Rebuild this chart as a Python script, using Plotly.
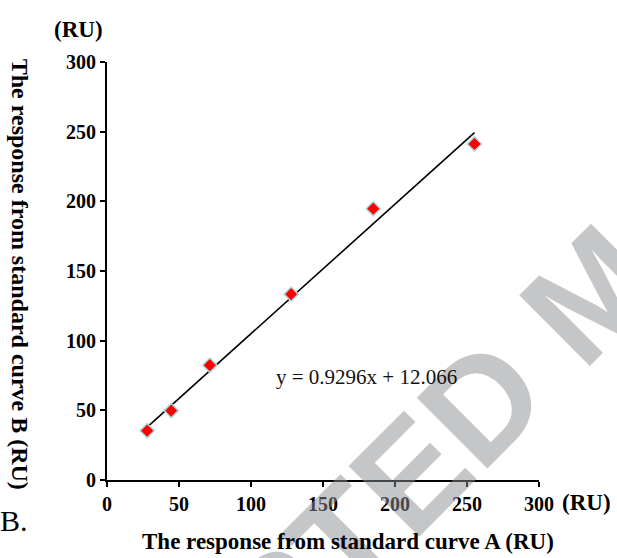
import plotly.graph_objects as go

# Data
x_resp_a = [27.9, 44.6, 71.4, 127.9, 184.9, 255.2]
y_resp_b = [35.4, 49.8, 82.4, 133.4, 194.7, 241.2]
slope = 0.9296
intercept = 12.066
tick_vals = [0, 50, 100, 150, 200, 250, 300]
tick_text = ["0", "50", "100", "150", "200", "250", "300"]

SERIF = "Liberation Serif, Times New Roman, serif"

fig = go.Figure()

# trendline over data extent
x_line = [min(x_resp_a), max(x_resp_a)]
y_line = [slope * v + intercept for v in x_line]
fig.add_trace(go.Scatter(x=x_line, y=y_line, mode="lines",
                         line=dict(color="black", width=1.6),
                         showlegend=False, hoverinfo="skip"))

fig.add_trace(go.Scatter(x=x_resp_a, y=y_resp_b, mode="markers",
                         marker=dict(symbol="diamond", size=11, color="#ff0000",
                                     line=dict(color="#a9dbe3", width=1.5)),
                         showlegend=False))

axis_common = dict(range=[0, 300], tickvals=tick_vals, ticktext=tick_text,
                   showgrid=False, zeroline=False, showline=True,
                   linecolor="black", linewidth=2, ticks="outside",
                   ticklen=5, tickwidth=2, tickcolor="black",
                   tickfont=dict(family=SERIF, size=20, color="black", weight="bold"),
                   fixedrange=True)

fig.update_xaxes(**axis_common)
fig.update_yaxes(**axis_common)

annotations = [
    # watermark
    dict(text="ACCEPTED MANUSCRIPT", x=1.125, y=0.45, xref="paper", yref="paper",
         xanchor="center", yanchor="middle", showarrow=False, textangle=-45,
         font=dict(family="Liberation Sans, Arial, sans-serif", size=145,
                   color="rgba(140,142,145,0.5)", weight="bold")),
    dict(text="y = 0.9296x + 12.066", x=180, y=74, xref="x", yref="y",
         xanchor="center", yanchor="middle", showarrow=False,
         font=dict(family=SERIF, size=21, color="#111111")),
    dict(text="The response from standard curve A (RU)", x=0.558, y=-0.148,
         xref="paper", yref="paper", xanchor="center", yanchor="middle",
         showarrow=False,
         font=dict(family=SERIF, size=23, color="black", weight="bold")),
    dict(text="The response from standard curve B (RU)", x=-0.201, y=0.493,
         xref="paper", yref="paper", xanchor="center", yanchor="middle",
         showarrow=False, textangle=90,
         font=dict(family=SERIF, size=24, color="black", weight="bold")),
    dict(text="(RU)", x=-0.067, y=1.077, xref="paper", yref="paper",
         xanchor="center", yanchor="middle", showarrow=False,
         font=dict(family=SERIF, size=23, color="black", weight="bold")),
    dict(text="(RU)", x=1.111, y=-0.055, xref="paper", yref="paper",
         xanchor="center", yanchor="middle", showarrow=False,
         font=dict(family=SERIF, size=23, color="black", weight="bold")),
    dict(text="B.", x=-0.216, y=-0.098, xref="paper", yref="paper",
         xanchor="center", yanchor="middle", showarrow=False,
         font=dict(family=SERIF, size=30, color="black")),
]

fig.update_layout(width=617, height=558,
                  margin=dict(l=107, r=78, t=62, b=78, pad=0),
                  plot_bgcolor="white", paper_bgcolor="white",
                  annotations=annotations, showlegend=False)

fig.write_html("out.html", config={"displayModeBar": False},
               post_script="document.body.style.margin='0';document.body.style.overflow='hidden';")
